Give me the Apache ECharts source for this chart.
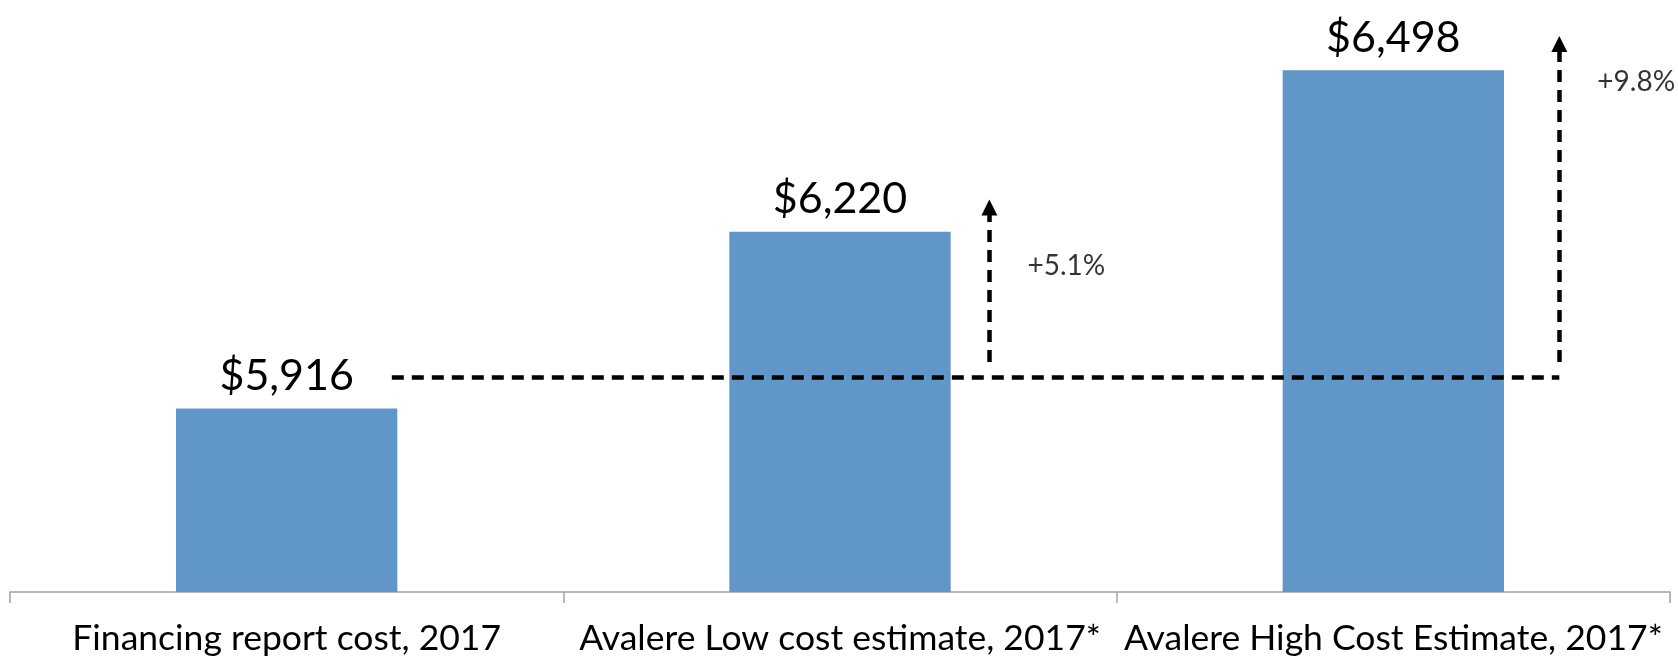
<!DOCTYPE html>
<html>
<head>
<meta charset="utf-8">
<script src="https://cdn.jsdelivr.net/npm/echarts@6/dist/echarts.min.js"></script>
<style>
  html, body { margin: 0; padding: 0; background: #fff; }
  #chart { width: 1678px; height: 660px; }
</style>
</head>
<body>
<div id="chart"></div>
<script>
// chart data
const categories = ['Financing report cost, 2017', 'Avalere Low cost estimate, 2017*', 'Avalere High Cost Estimate, 2017*'];
const costs = [5916, 6220, 6498];

// annotation levels (in y-axis units) and x positions (in category units)
const refLevel = 5970;
const refFromX = 0.19;
const arrowX = [1.27, 2.30];
const arrowBase = 5996;
const arrowTop = [6262, 6543];
const pctLabelY = [6162, 6477];

const font = 'Lato';
const chart = echarts.init(document.getElementById('chart'));

const pct = costs.slice(1).map(v => '+' + ((v / costs[0] - 1) * 100).toFixed(1) + '%');

const option = {
    animation: false,
    grid: { left: 10, right: 8, top: 11, bottom: 68 },
    xAxis: [
        {
            type: 'category',
            data: categories,
            axisLine: { lineStyle: { color: '#a3a3a3', width: 1.5 } },
            axisTick: { show: true, length: 11, lineStyle: { color: '#a3a3a3', width: 1.5 } },
            axisLabel: { interval: 0, hideOverlap: false, color: '#000', fontFamily: font, fontSize: 35.5, margin: 29 }
        },
        { type: 'value', min: -0.5, max: 2.5, show: false }
    ],
    yAxis: {
        type: 'value',
        min: 5600,
        max: 6600,
        show: false,
        splitLine: { show: false }
    },
    series: [
        {
            type: 'bar',
            data: costs,
            barWidth: '40%',
            itemStyle: { color: '#6196c9' },
            label: {
                show: true,
                position: 'top',
                distance: 11,
                color: '#000',
                fontFamily: font,
                fontSize: 43,
                formatter: p => '$' + p.value.toLocaleString('en-US')
            }
        },
        {
            type: 'lines',
            coordinateSystem: 'cartesian2d',
            xAxisIndex: 1,
            silent: true,
            z: 10,
            symbol: ['none', 'none'],
            lineStyle: { color: '#000', width: 4.5, type: [12, 8], opacity: 1 },
            data: [{ coords: [[refFromX, refLevel], [arrowX[1], refLevel]] }]
        },
        {
            type: 'lines',
            coordinateSystem: 'cartesian2d',
            xAxisIndex: 1,
            silent: true,
            z: 10,
            symbol: ['none', 'triangle'],
            symbolSize: [14, 16],
            lineStyle: { color: '#000', width: 4.5, type: [12, 8], opacity: 1 },
            data: arrowX.map((x, i) => ({ coords: [[x, arrowBase], [x, arrowTop[i]]] }))
        },
        {
            type: 'scatter',
            xAxisIndex: 1,
            silent: true,
            z: 10,
            symbolSize: 0,
            data: arrowX.map((x, i) => [x, pctLabelY[i]]),
            label: {
                show: true,
                position: 'right',
                distance: 38,
                color: '#000',
                fontFamily: font,
                fontSize: 28,
                formatter: p => pct[p.dataIndex]
            }
        }
    ]
};

chart.setOption(option);
</script>
</body>
</html>
